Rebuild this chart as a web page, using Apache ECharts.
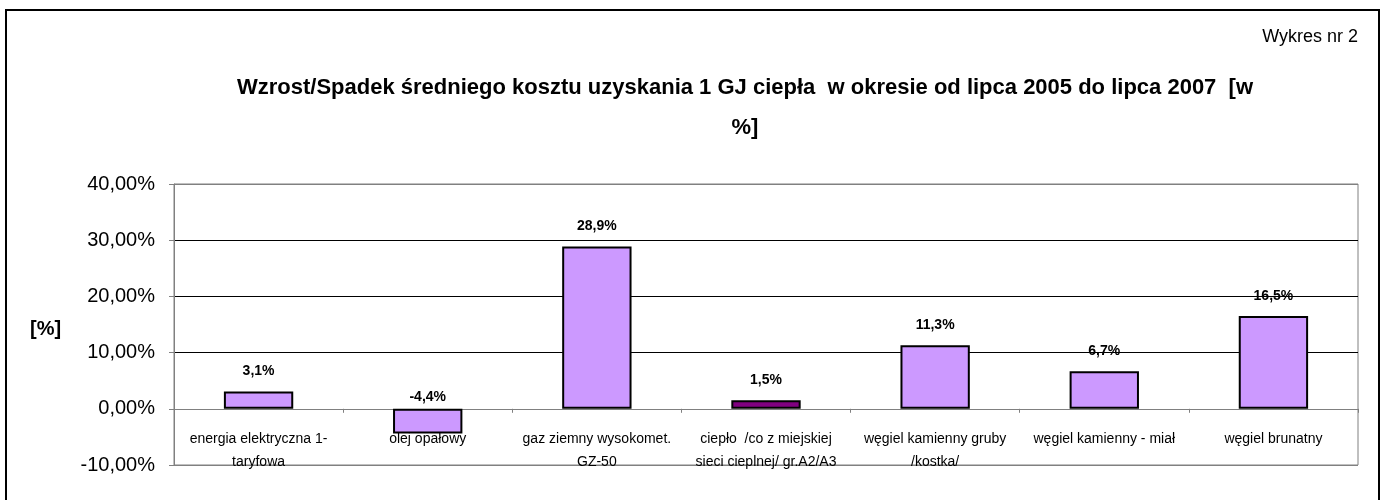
<!DOCTYPE html>
<html>
<head>
<meta charset="utf-8">
<script src="https://cdn.jsdelivr.net/npm/echarts@6/dist/echarts.min.js"></script>
<style>
  html, body { margin: 0; padding: 0; background: #fff; }
  #chart { width: 1387px; height: 500px; }
</style>
</head>
<body>
<div id="chart"></div>
<script>
const categories = [
    'energia elektryczna 1-\ntaryfowa',
    'olej opałowy',
    'gaz ziemny wysokomet.\nGZ-50',
    'ciepło  /co z miejskiej\nsieci cieplnej/ gr.A2/A3',
    'węgiel kamienny gruby\n/kostka/',
    'węgiel kamienny - miał',
    'węgiel brunatny'
]
const values = [3.1, -4.4, 28.9, 1.5, 11.3, 6.7, 16.5]
const highlighted = [false, false, false, true, false, false, false]
const yTicks = { min: -10, max: 40, interval: 10 }

const chart = echarts.init(document.getElementById('chart'))

const fmtAxis = v => v.toFixed(2).replace('.', ',') + '%'
const fmtLabel = v => v.toFixed(1).replace('.', ',') + '%'

const option = {
    animation: false,
    textStyle: { fontFamily: 'Liberation Sans, Arial, sans-serif' },
    title: {
        text: 'Wzrost/Spadek średniego kosztu uzyskania 1 GJ ciepła  w okresie od lipca 2005 do lipca 2007  [w\n%]',
        left: 740,
        top: 63,
        textAlign: 'center',
        textStyle: {
            fontSize: 22,
            fontWeight: 'bold',
            color: '#000',
            lineHeight: 40,
            align: 'center'
        }
    },
    graphic: [
        {
            type: 'rect',
            shape: { x: 6, y: 10, width: 1373, height: 500 },
            style: { fill: 'none', stroke: '#000', lineWidth: 2 },
            silent: true
        },
        {
            type: 'text',
            right: 29,
            top: 28,
            style: { text: 'Wykres nr 2', fontSize: 18, fill: '#000', fontFamily: 'Liberation Sans, Arial' }
        },
        {
            type: 'text',
            left: 30,
            top: 319,
            style: { text: '[%]', fontSize: 20, fontWeight: 'bold', fill: '#000', fontFamily: 'Liberation Sans, Arial' }
        }
    ],
    grid: {
        left: 174,
        right: 29,
        top: 184,
        bottom: 35,
        outerBoundsMode: 'none',
        show: true,
        borderColor: '#808080',
        borderWidth: 1,
        backgroundColor: 'transparent'
    },
    xAxis: {
        type: 'category',
        data: categories,
        axisLine: { onZero: true, lineStyle: { color: '#808080', width: 1 } },
        axisTick: { show: true, length: 4, inside: false, lineStyle: { color: '#808080' } },
        axisLabel: {
            interval: 0,
            // labels stay at the grid bottom, pull them up under the zero line
            margin: -37,
            fontSize: 14,
            lineHeight: 23,
            color: '#000'
        }
    },
    yAxis: {
        type: 'value',
        min: yTicks.min,
        max: yTicks.max,
        interval: yTicks.interval,
        axisLine: { show: true, lineStyle: { color: '#808080' } },
        axisTick: { show: true, length: 5, lineStyle: { color: '#808080' } },
        axisLabel: {
            formatter: fmtAxis,
            fontSize: 20,
            color: '#000',
            margin: 19
        },
        splitLine: {
            show: true,
            lineStyle: {
                color: ['#808080', '#808080', '#000', '#000', '#000', '#808080'],
                width: 1
            }
        }
    },
    series: [
        {
            type: 'bar',
            barWidth: '41%',
            data: values.map((v, i) => ({
                value: v,
                itemStyle: { color: highlighted[i] ? '#800080' : '#CC99FF' },
                label: { distance: v < 0 ? 5 : 13 }
            })),
            itemStyle: { borderColor: '#000', borderWidth: 2 },
            label: {
                show: true,
                position: 'top',
                formatter: p => fmtLabel(p.value),
                fontSize: 14,
                fontWeight: 'bold',
                color: '#000'
            }
        }
    ]
}

chart.setOption(option)
</script>
</body>
</html>
